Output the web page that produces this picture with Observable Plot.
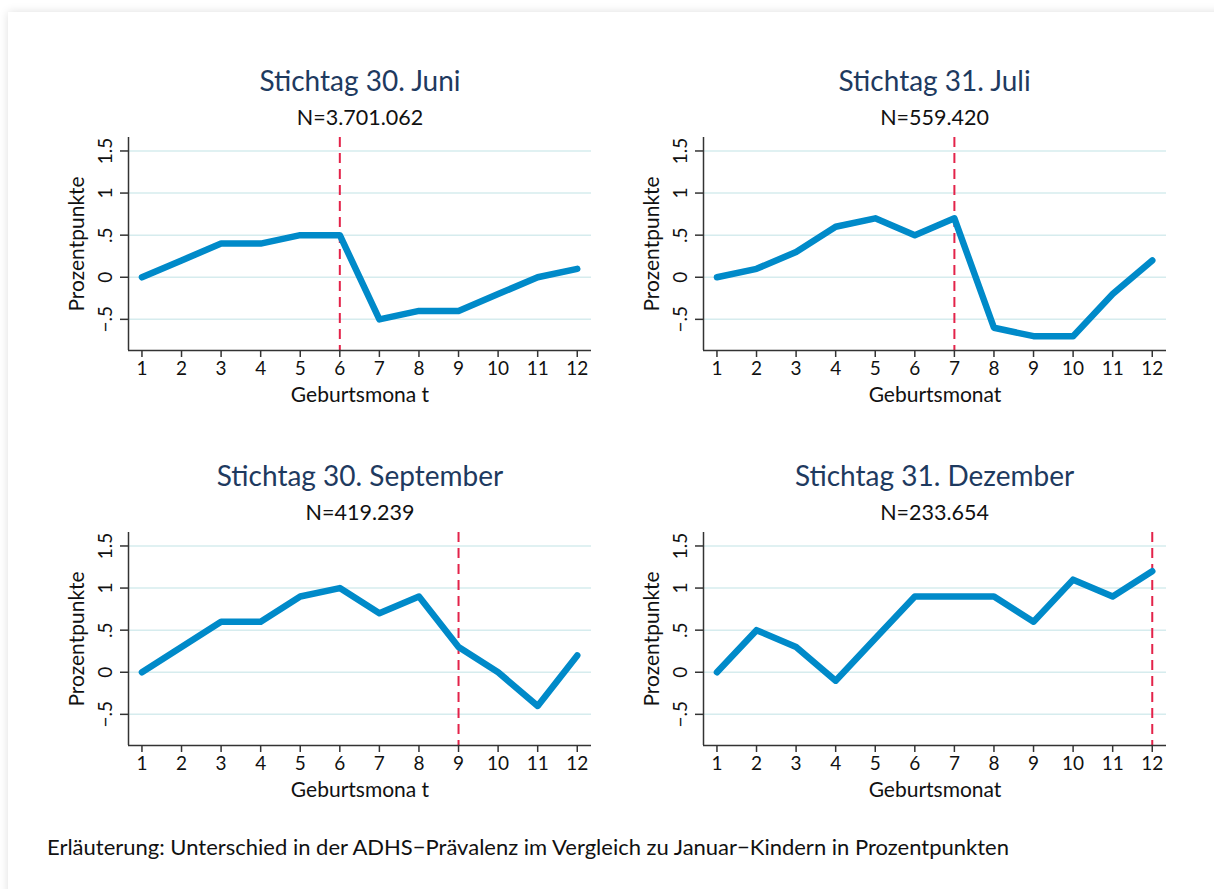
<!DOCTYPE html>
<html><head><meta charset="utf-8">
<script src="https://cdn.jsdelivr.net/npm/d3@7"></script>
<script src="https://cdn.jsdelivr.net/npm/@observablehq/plot@0.6"></script>
<style>
body{margin:0;background:#fff;width:1214px;height:889px;overflow:hidden;font-family:Lato,sans-serif;position:relative;}
#card{position:absolute;left:8px;top:12px;width:1230px;height:900px;background:#fff;box-shadow:0 0 9px rgba(0,0,0,0.13);}
.title{position:absolute;width:560px;text-align:center;font-size:28px;color:#1e3a5f;line-height:1;white-space:nowrap;}
.sub{position:absolute;width:560px;text-align:center;font-size:21.5px;color:#111;line-height:1;white-space:nowrap;}
.panel{position:absolute;}
#caption{position:absolute;left:47px;top:836px;font-size:22px;color:#111;line-height:1;white-space:nowrap;}
</style></head><body>
<div id="card"></div>
<div id="root"></div>
<div id="caption"></div>
<script>
const months = [1,2,3,4,5,6,7,8,9,10,11,12];
const titles = ["Stichtag 30. Juni","Stichtag 31. Juli","Stichtag 30. September","Stichtag 31. Dezember"];
const nLabels = ["N=3.701.062","N=559.420","N=419.239","N=233.654"];
const cutoffs = [6,7,9,12];
const valuesJuni = [0,0.2,0.4,0.4,0.5,0.5,-0.5,-0.4,-0.4,-0.2,0,0.1];
const valuesJuli = [0,0.1,0.3,0.6,0.7,0.5,0.7,-0.6,-0.7,-0.7,-0.2,0.2];
const valuesSeptember = [0,0.3,0.6,0.6,0.9,1.0,0.7,0.9,0.3,0,-0.4,0.2];
const valuesDezember = [0,0.5,0.3,-0.1,0.4,0.9,0.9,0.9,0.6,1.1,0.9,1.2];
const xLabels = ["Geburtsmona t","Geburtsmonat","Geburtsmona t","Geburtsmonat"];
const yLabel = "Prozentpunkte";
const yTicks = [-0.5,0,0.5,1,1.5];
const yTickLabels = ["−.5","0",".5","1","1.5"];
const xDomain = [0.66, 12.36];
const yDomain = [-0.87, 1.66];
const caption = "Erläuterung: Unterschied in der ADHS−Prävalenz im Vergleich zu Januar−Kindern in Prozentpunkten";

const series = [valuesJuni, valuesJuli, valuesSeptember, valuesDezember];
const root = document.getElementById("root");
const colOffsets = [0, 574.6];
const rowOffsets = [0, 395.3];

series.forEach((vals, i) => {
  const dx = colOffsets[i % 2], dy = rowOffsets[Math.floor(i / 2)];
  const data = months.map((m, j) => ({month: m, value: vals[j]}));
  const t = document.createElement("div");
  t.className = "title"; t.textContent = titles[i];
  t.style.left = (80 + dx) + "px"; t.style.top = (66 + dy) + "px";
  root.appendChild(t);
  const s = document.createElement("div");
  s.className = "sub"; s.textContent = nLabels[i];
  s.style.left = (80 + dx) + "px"; s.style.top = (107 + dy) + "px";
  root.appendChild(s);

  const chart = Plot.plot({
    width: 561, height: 290,
    marginLeft: 88, marginRight: 10, marginTop: 7, marginBottom: 70,
    x: {domain: xDomain},
    y: {domain: yDomain},
    style: {fontFamily: "Lato, sans-serif", fontSize: "19px", color: "#111", background: "transparent", overflow: "visible"},
    marks: [
      Plot.gridY(yTicks, {stroke: "#d6ecee", strokeOpacity: 1, strokeWidth: 1.5}),
      Plot.ruleX([cutoffs[i]], {stroke: "#e3234a", strokeWidth: 2, strokeDasharray: "10,6"}),
      Plot.lineY(data, {x: "month", y: "value", stroke: "#008ac9", strokeWidth: 6.5, strokeLinecap: "round", strokeLinejoin: "round"}),
      Plot.ruleY([yDomain[0]], {stroke: "#333", strokeWidth: 1.5}),
      Plot.ruleX([xDomain[0]], {stroke: "#333", strokeWidth: 1.5}),
      Plot.axisX(months, {tickSize: 7, tickPadding: 4, label: null, stroke: "#333", strokeWidth: 1.5, fontSize: 19}),
      Plot.axisY(yTicks, {tickSize: 8, tickPadding: 9, tickRotate: -90, tickFormat: d => yTickLabels[yTicks.indexOf(d)], label: null, stroke: "#333", strokeWidth: 1.5, fontSize: 19}),
      Plot.text([xLabels[i]], {text: d => d, frameAnchor: "bottom", dy: 51, fontSize: 21}),
      Plot.text([yLabel], {text: d => d, frameAnchor: "left", textAnchor: "middle", dx: -51, rotate: -90, fontSize: 21})
    ]
  });
  chart.classList.add("panel");
  chart.style.left = (40 + dx) + "px";
  chart.style.top = (130 + dy) + "px";
  root.appendChild(chart);
});
document.getElementById("caption").textContent = caption;
</script>
</body></html>
